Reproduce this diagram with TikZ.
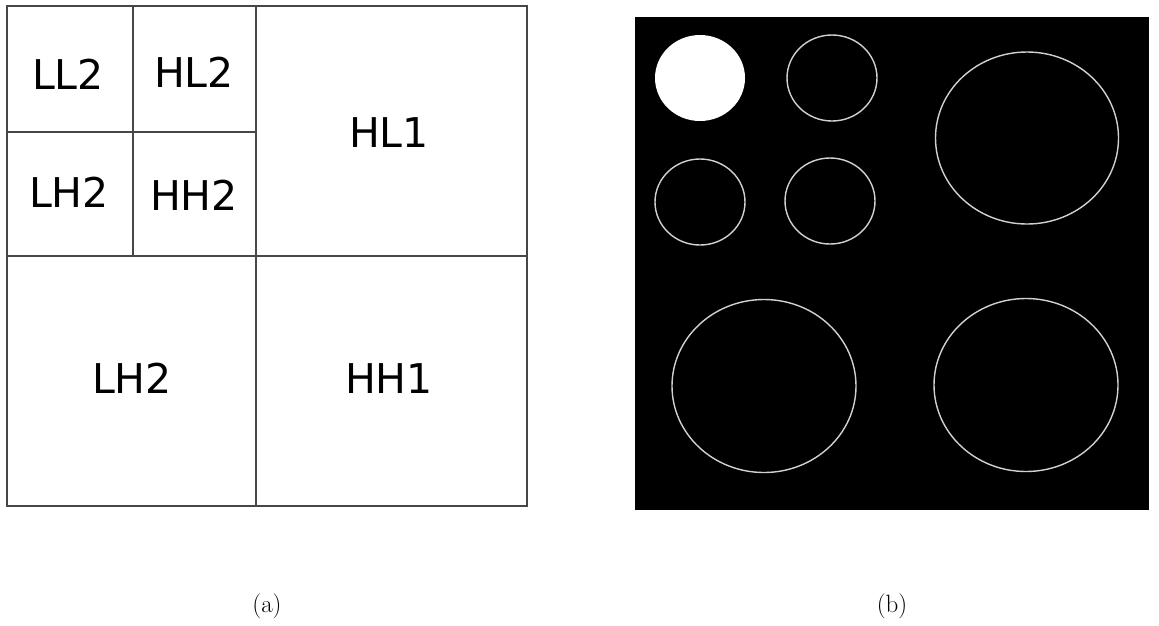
\documentclass[tikz,border=0pt]{standalone}
\usepackage{fontspec}
\newfontfamily\labfont{DejaVu Sans}
\begin{document}
\begin{tikzpicture}[x=1pt,y=-1pt,
  gridline/.style={draw=black!72,line width=1.5pt},
  bandlab/.style={anchor=base,inner sep=0pt,font=\labfont\fontsize{41}{49}\selectfont},
  caplab/.style={anchor=base,inner sep=0pt,font=\fontsize{25}{30}\selectfont},
  ring/.style={draw=white!82!black,line width=1.4pt},
]
\useasboundingbox (0,0) rectangle (1159,625);
% left panel: wavelet subbands
\draw[gridline] (7,6) rectangle (527,506);
\draw[gridline] (256,6) -- (256,506);
\draw[gridline] (7,256) -- (527,256);
\draw[gridline] (133,6) -- (133,256);
\draw[gridline] (7,132) -- (256,132);
\node[bandlab] (ll2) at (68,89) {LL2};
\node[bandlab] (hl2) at (194,87) {HL2};
\node[bandlab] (lh2s) at (69,207) {LH2};
\node[bandlab] (hh2) at (194,210) {HH2};
\node[bandlab] (hl1) at (389,147) {HL1};
\node[bandlab] (lh2b) at (132,393) {LH2};
\node[bandlab] (hh1) at (389,393) {HH1};
% right panel: decomposed image
\fill[black] (635,17) rectangle (1149,510);
\fill[white] (700,78) ellipse [x radius=45, y radius=43];
\draw[ring] (832,78) ellipse [x radius=45, y radius=43];
\draw[ring] (700,202) ellipse [x radius=45, y radius=43];
\draw[ring] (830,201) ellipse [x radius=45, y radius=43];
\draw[ring] (1027,138) ellipse [x radius=91.5, y radius=86];
\draw[ring] (764,386) ellipse [x radius=92, y radius=86.5];
\draw[ring] (1026,385) ellipse [x radius=92, y radius=86.5];
% captions
\node[caplab] (capa) at (267,612) {(a)};
\node[caplab] (capb) at (892,612) {(b)};
\end{tikzpicture}
\end{document}
